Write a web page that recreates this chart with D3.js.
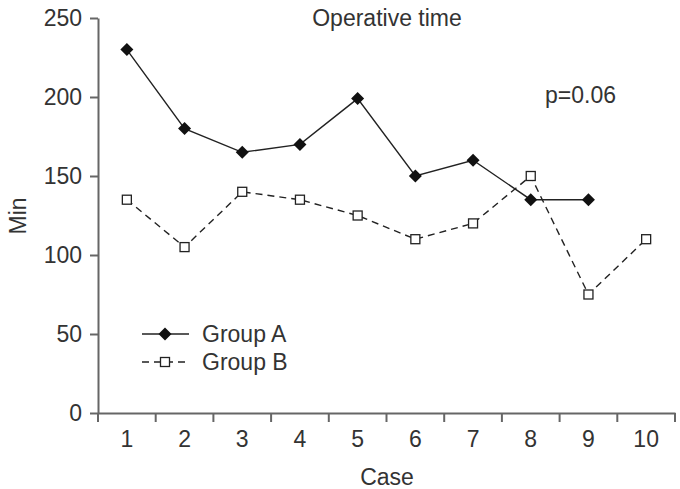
<!DOCTYPE html>
<html>
<head>
<meta charset="utf-8">
<script src="https://cdn.jsdelivr.net/npm/d3@7"></script>
<style>
  body { margin: 0; background: #fff; }
  text { font-family: "Liberation Sans", Arial, sans-serif; fill: #333; }
</style>
</head>
<body>
<script>
const cases = [1, 2, 3, 4, 5, 6, 7, 8, 9, 10];
const groupA = [230, 180, 165, 170, 199, 150, 160, 135, 135];
const groupB = [135, 105, 140, 135, 125, 110, 120, 150, 75, 110];
const yTicks = [0, 50, 100, 150, 200, 250];

const width = 680, height = 489;
const margin = { top: 18, right: 5, bottom: 76, left: 98 };
const fs = "23px";

const svg = d3.select("body").append("svg")
    .attr("width", width)
    .attr("height", height);

// band scale: ticks sit between cases, points at band centres
const x = d3.scaleBand()
    .domain(cases)
    .range([margin.left, width - margin.right]);

const y = d3.scaleLinear()
    .domain([0, 250])
    .range([height - margin.bottom, margin.top]);

const axisColor = "#666";

// x axis
const gx = svg.append("g")
    .attr("transform", `translate(0,${height - margin.bottom})`)
    .call(d3.axisBottom(x).tickSize(0).tickPadding(18));
gx.select(".domain").attr("stroke", axisColor).attr("stroke-width", 2);
gx.selectAll("text").style("font-size", fs).attr("fill", "#333");
// ticks between categories
svg.append("g").selectAll("line")
    .data(d3.range(cases.length + 1))
    .enter().append("line")
    .attr("x1", i => margin.left + i * x.bandwidth())
    .attr("x2", i => margin.left + i * x.bandwidth())
    .attr("y1", height - margin.bottom)
    .attr("y2", height - margin.bottom + 9)
    .attr("stroke", axisColor)
    .attr("stroke-width", 2);

// y axis
const gy = svg.append("g")
    .attr("transform", `translate(${margin.left},0)`)
    .call(d3.axisLeft(y).tickValues(yTicks).tickSize(8).tickPadding(8).tickSizeOuter(0));
gy.select(".domain").attr("stroke", axisColor).attr("stroke-width", 2);
gy.selectAll(".tick line").attr("stroke", axisColor).attr("stroke-width", 2);
gy.selectAll("text").style("font-size", fs).attr("fill", "#333");

// labels
svg.append("text")
    .attr("x", 387).attr("y", 26)
    .attr("text-anchor", "middle")
    .style("font-size", fs)
    .text("Operative time");

svg.append("text")
    .attr("x", 545).attr("y", 103)
    .style("font-size", fs)
    .text("p=0.06");

svg.append("text")
    .attr("x", 387).attr("y", 485)
    .attr("text-anchor", "middle")
    .style("font-size", fs)
    .text("Case");

svg.append("text")
    .attr("transform", "translate(26,216) rotate(-90)")
    .attr("text-anchor", "middle")
    .style("font-size", fs)
    .text("Min");

const cx = (d, i) => x(cases[i]) + x.bandwidth() / 2;
const line = d3.line().x(cx).y(d => y(d));

// Group B (dashed, open squares)
svg.append("path")
    .datum(groupB)
    .attr("d", line)
    .attr("fill", "none")
    .attr("stroke", "#222")
    .attr("stroke-width", 1.4)
    .attr("stroke-dasharray", "7,5");

// Group A (solid, filled diamonds)
svg.append("path")
    .datum(groupA)
    .attr("d", line)
    .attr("fill", "none")
    .attr("stroke", "#222")
    .attr("stroke-width", 1.4);

const diamond = s => `M0,${-s}L${s},0L0,${s}L${-s},0Z`;

svg.append("g").selectAll("path")
    .data(groupA)
    .enter().append("path")
    .attr("d", diamond(6.5))
    .attr("transform", (d, i) => `translate(${cx(d, i)},${y(d)})`)
    .attr("fill", "#111");

svg.append("g").selectAll("rect")
    .data(groupB)
    .enter().append("rect")
    .attr("x", (d, i) => cx(d, i) - 4.5)
    .attr("y", d => y(d) - 4.5)
    .attr("width", 9)
    .attr("height", 9)
    .attr("fill", "#fff")
    .attr("stroke", "#222")
    .attr("stroke-width", 1.3);

// legend
const legend = svg.append("g");
const legendItems = [
    { name: "Group A", dash: null, y: 334 },
    { name: "Group B", dash: "7,5", y: 362 }
];
legendItems.forEach((it, i) => {
    legend.append("line")
        .attr("x1", 142).attr("x2", 189)
        .attr("y1", it.y).attr("y2", it.y)
        .attr("stroke", "#222")
        .attr("stroke-width", 1.4)
        .attr("stroke-dasharray", it.dash);
    if (i === 0) {
        legend.append("path")
            .attr("d", diamond(6.5))
            .attr("transform", `translate(165,${it.y})`)
            .attr("fill", "#111");
    } else {
        legend.append("rect")
            .attr("x", 160.5).attr("y", it.y - 4.5)
            .attr("width", 9).attr("height", 9)
            .attr("fill", "#fff")
            .attr("stroke", "#222")
            .attr("stroke-width", 1.3);
    }
    legend.append("text")
        .attr("x", 202).attr("y", it.y + 8)
        .style("font-size", fs)
        .text(it.name);
});
</script>
</body>
</html>
